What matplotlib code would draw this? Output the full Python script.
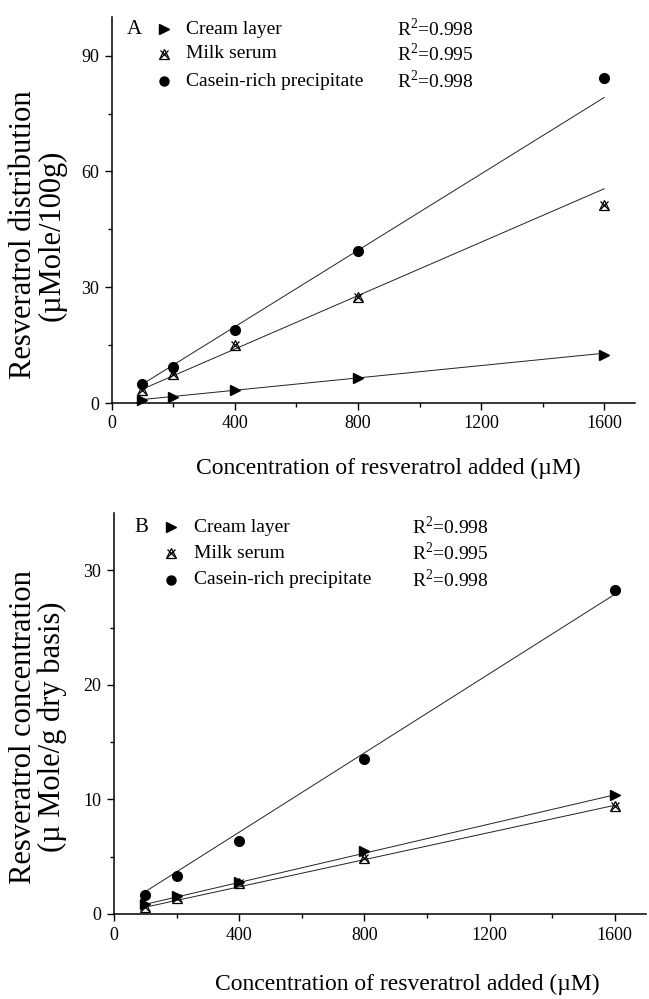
import numpy as np
import matplotlib.pyplot as plt

plt.rcParams['font.family'] = ['Liberation Serif', 'DejaVu Serif']
plt.rcParams['mathtext.fontset'] = 'custom'
plt.rcParams['mathtext.rm'] = 'Liberation Serif'

# Data
conc = [100, 200, 400, 800, 1600]
series = ['Cream layer', 'Milk serum', 'Casein-rich precipitate']
r2_labels = ['0.998', '0.995', '0.998']

# Panel A: distribution (uMole/100g)
dist_cream = [0.8, 1.6, 3.4, 6.5, 12.4]
dist_serum = [3.4, 7.4, 15.0, 27.5, 51.2]
dist_casein = [4.9, 9.4, 18.9, 39.5, 84.2]
dist_slope = [0.0080, 0.0346, 0.0495]
dist_icpt = [0.1, 0.14, -0.05]

# Panel B: concentration (uMole/g dry basis)
dry_cream = [0.9, 1.6, 2.8, 5.5, 10.4]
dry_serum = [0.6, 1.4, 2.7, 4.9, 9.4]
dry_casein = [1.7, 3.3, 6.4, 13.5, 28.3]
dry_slope = [0.00637, 0.00593, 0.0173]
dry_icpt = [0.21, 0.0, 0.22]

W, H = 649, 999


def px(x, y):
    return x / W, 1 - y / H


def draw_marker(ax, x, y, kind, ms, **kw):
    if kind == 0:
        ax.plot(x, y, '>', color='black', ms=ms, ls='none', **kw)
    elif kind == 1:
        ax.plot(x, y, '^', mfc='none', mec='black', mew=0.9, ms=ms, ls='none', **kw)
        ax.plot(x, y, 'x', color='black', mew=0.9, ms=ms * 0.85, ls='none', **kw)
    else:
        ax.plot(x, y, 'o', color='black', ms=ms, ls='none', **kw)


def panel(rect, data, slopes, icpts, ymax, ymajor, yminor, letter, leg, ylabel, ylab_pos, xlab_pos):
    ax = fig.add_axes(rect)
    x = np.array(conc, dtype=float)
    xl = np.array([x.min(), x.max()])
    for i, vals in enumerate(data):
        ax.plot(xl, slopes[i] * xl + icpts[i], color='#222222', lw=0.7)
    for i, vals in enumerate(data):
        draw_marker(ax, x, vals, i, 7, clip_on=False)
    ax.set_xlim(0, 1700)
    ax.set_ylim(0, ymax)
    ax.set_xticks([0, 400, 800, 1200, 1600])
    ax.set_xticks(np.arange(200, 1700, 400), minor=True)
    ax.set_yticks(np.arange(0, ymax, ymajor))
    ax.set_yticks(np.arange(yminor, ymax, ymajor), minor=True)
    for s in ['top', 'right']:
        ax.spines[s].set_visible(False)
    for s in ['left', 'bottom']:
        ax.spines[s].set_linewidth(1.1)
    ax.tick_params(which='major', direction='out', length=5, width=1.0, labelsize=13, pad=4)
    ax.tick_params(which='minor', direction='out', length=3, width=1.0)

    # legend block
    lx, mx, tx, rx, rows = leg
    fig.text(*px(lx, rows[0]), letter, fontsize=15, ha='left', va='center')
    for i, name in enumerate(series):
        fx, fy = px(mx, rows[i])
        draw_marker(ax, [fx], [fy], i, 6.5, transform=fig.transFigure, clip_on=False)
        fig.text(*px(tx, rows[i]), name, fontsize=14, ha='left', va='center')
        fig.text(*px(rx, rows[i]), 'R$^{2}$=' + r2_labels[i], fontsize=14, ha='left', va='center')

    fig.text(*px(*ylab_pos), ylabel, fontsize=22, rotation=90, ha='center', va='center',
             linespacing=1.0, multialignment='center')
    fig.text(*px(*xlab_pos), 'Concentration of resveratrol added (\u00b5M)', fontsize=17,
             ha='center', va='center')
    return ax


fig = plt.figure(figsize=(W / 100, H / 100), dpi=100)

panel([111.7 / W, 1 - 403 / H, (635 - 111.7) / W, (403 - 17) / H],
      [dist_cream, dist_serum, dist_casein], dist_slope, dist_icpt,
      100, 30, 15, 'A', (127, 164, 186, 397, [29, 54, 81]),
      'Resveratrol distribution\n(\u00b5Mole/100g)', (38, 235), (388, 468))

panel([114 / W, 1 - 914 / H, (646 - 114) / W, (914 - 513) / H],
      [dry_cream, dry_serum, dry_casein], dry_slope, dry_icpt,
      35, 10, 5, 'B', (134, 171, 194, 412, [527, 553, 580]),
      'Resveratrol concentration\n(\u00b5 Mole/g dry basis)', (38, 727), (407, 984))

fig.savefig('out.png', dpi=100)
